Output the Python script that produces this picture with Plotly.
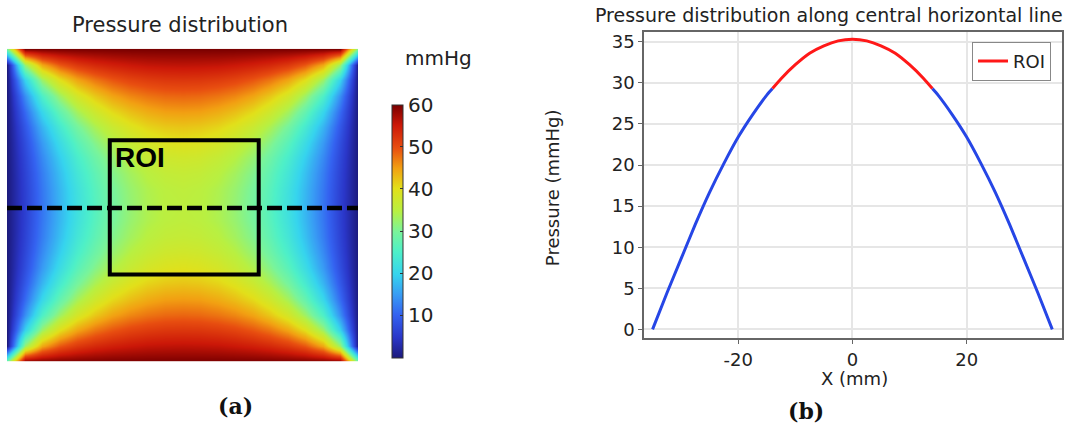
import numpy as np
import plotly.graph_objects as go

# ---------------- Data ----------------
# Heatmap grid: top-left quarter of the pressure field (mmHg).
# rows: from the central horizontal line (y=0) up to the top edge; cols: from left edge to centre (x=0)
grid_x_quarter = [-35.0, -31.5, -28.0, -24.5, -21.0, -17.5, -14.0, -10.5, -7.0, -3.5, 0.0]
grid_y_quarter = [0.0, 3.08, 6.16, 9.24, 12.32, 15.4, 18.48, 21.56, 24.64, 27.72, 30.8]
pressure_quarter = [
    [0.0, 6.0, 11.8, 17.2, 22.0, 26.1, 29.4, 32.0, 33.9, 35.0, 35.3],
    [0.0, 6.1, 12.0, 17.4, 22.2, 26.4, 29.7, 32.3, 34.1, 35.2, 35.6],
    [0.0, 6.4, 12.5, 18.1, 23.1, 27.2, 30.6, 33.2, 35.0, 36.1, 36.4],
    [0.0, 6.9, 13.5, 19.4, 24.5, 28.7, 32.1, 34.7, 36.4, 37.5, 37.8],
    [0.0, 7.7, 14.9, 21.3, 26.6, 30.9, 34.2, 36.7, 38.4, 39.4, 39.8],
    [0.0, 9.0, 17.1, 24.0, 29.5, 33.8, 37.0, 39.4, 41.0, 41.9, 42.2],
    [0.0, 10.9, 20.3, 27.7, 33.3, 37.5, 40.5, 42.6, 44.0, 44.9, 45.1],
    [0.0, 14.0, 25.2, 32.9, 38.3, 42.0, 44.6, 46.4, 47.5, 48.2, 48.4],
    [0.0, 19.9, 32.7, 40.1, 44.5, 47.4, 49.3, 50.7, 51.5, 52.0, 52.1],
    [0.0, 32.5, 44.3, 49.3, 51.9, 53.5, 54.5, 55.2, 55.7, 55.9, 56.0],
    [30.0, 60.0, 60.0, 60.0, 60.0, 60.0, 60.0, 60.0, 60.0, 60.0, 60.0],
]
cbar_ticks = [10, 20, 30, 40, 50, 60]

# Profile along the central horizontal line (X in mm, pressure in mmHg)
line_x = [-35, -32.5, -30, -27.5, -25, -22.5, -20, -17.5, -15, -14, -12.5, -10, -7.5, -5, -2.5, 0,
          2.5, 5, 7.5, 10, 12.5, 14, 15, 17.5, 20, 22.5, 25, 27.5, 30, 32.5, 35]
line_p = [0.0, 4.4, 8.6, 12.8, 16.7, 20.2, 23.4, 26.1, 28.5, 29.3, 30.5, 32.2, 33.6, 34.5, 35.1, 35.3,
          35.1, 34.5, 33.6, 32.2, 30.5, 29.3, 28.5, 26.1, 23.4, 20.2, 16.7, 12.8, 8.6, 4.4, 0.0]
roi_x = [-14, 14]
x_ticks = [-20, 0, 20]
x_ticktext = ['-20', '0', '20']
y_ticks = [0, 5, 10, 15, 20, 25, 30, 35]

# ROI box and dashed line drawn on the map (mm)
roi_box_x = [-14.5, 15.2]
roi_box_y = [-13.7, 12.75]
center_line_y = -0.6

# ---------------- Build full field by symmetry ----------------
Q = np.array(pressure_quarter)
full_cols = np.hstack([Q, Q[:, -2::-1]])
Z = np.vstack([full_cols[:0:-1], full_cols])
gx = np.array(grid_x_quarter)
gy = np.array(grid_y_quarter)
X = np.concatenate([gx, -gx[-2::-1]])
Y = np.concatenate([-gy[:0:-1], gy])

colorscale = [
    [0.00, '#1c1a7c'], [0.08, '#2a36c8'], [0.17, '#3462f0'], [0.25, '#389cf4'],
    [0.33, '#36d4ee'], [0.42, '#4ef0c8'], [0.50, '#7af49a'], [0.58, '#b8f042'],
    [0.67, '#e2e01a'], [0.75, '#f2a012'], [0.83, '#e84e10'], [0.92, '#cc1808'],
    [1.00, '#7a0000'],
]

FONT = 'DejaVu Sans'
fig = go.Figure()

fig.add_trace(go.Heatmap(
    x=X, y=Y, z=Z, zsmooth='best', colorscale=colorscale, zmin=0, zmax=60,
    xaxis='x', yaxis='y', hoverinfo='skip',
    colorbar=dict(
        x=392 / 1069, xanchor='left', xpad=0,
        y=1 - 104 / 430, yanchor='top', ypad=0,
        len=254 / 430, lenmode='fraction',
        thickness=11, thicknessmode='pixels',
        outlinewidth=1, outlinecolor='#333',
        tickvals=cbar_ticks, ticks='inside', ticklen=3, tickcolor='#333',
        tickfont=dict(family=FONT, size=20, color='#222'),
    ),
))

lx = np.array(line_x, dtype=float)
lp = np.array(line_p, dtype=float)
left_m = lx <= roi_x[0]
right_m = lx >= roi_x[1]
roi_m = (lx >= roi_x[0]) & (lx <= roi_x[1])
blue = '#2646e6'
red = '#ff1818'
for m in (left_m, right_m):
    fig.add_trace(go.Scatter(x=lx[m], y=lp[m], mode='lines',
                             line=dict(color=blue, width=3, shape='spline', smoothing=0.6),
                             xaxis='x2', yaxis='y2', showlegend=False))
fig.add_trace(go.Scatter(x=lx[roi_m], y=lp[roi_m], mode='lines',
                         line=dict(color=red, width=3, shape='spline', smoothing=0.6),
                         xaxis='x2', yaxis='y2', name='ROI', showlegend=True))

fig.update_layout(
    width=1069, height=430,
    margin=dict(l=0, r=0, t=0, b=0),
    paper_bgcolor='white', plot_bgcolor='white',
    font=dict(family=FONT, color='#222'),
    xaxis=dict(domain=[7 / 1069, 358 / 1069], range=[-35, 35], visible=False),
    yaxis=dict(domain=[1 - 362 / 430, 1 - 48 / 430], range=[-30.8, 30.8], visible=False),
    xaxis2=dict(domain=[644 / 1069, 1062 / 1069], range=[-36.5, 36.7], anchor='y2',
                tickvals=x_ticks, ticktext=x_ticktext, showgrid=True, gridcolor='#e6e6e6', gridwidth=2,
                zeroline=False, showline=True, linecolor='#666', linewidth=1.5, mirror=True,
                ticks='outside', ticklen=4, tickcolor='#666',
                tickfont=dict(family=FONT, size=18, color='#222')),
    yaxis2=dict(domain=[1 - 339 / 430, 1 - 31 / 430], range=[-1.1, 36.2], anchor='x2',
                tickvals=y_ticks, showgrid=True, gridcolor='#e6e6e6', gridwidth=2,
                zeroline=False, showline=True, linecolor='#666', linewidth=1.5, mirror=True,
                ticks='outside', ticklen=4, tickcolor='#666',
                tickfont=dict(family=FONT, size=18, color='#222')),
    legend=dict(x=1051 / 1069, xanchor='right', y=1 - 41 / 430, yanchor='top',
                bgcolor='white', bordercolor='#888', borderwidth=1,
                font=dict(family=FONT, size=18, color='#222'),
                itemwidth=30, tracegroupgap=0),
    showlegend=True,
)

# shapes on the map
fig.add_shape(type='rect', xref='x', yref='y', x0=roi_box_x[0], x1=roi_box_x[1],
              y0=roi_box_y[0], y1=roi_box_y[1], line=dict(color='black', width=4))
fig.add_shape(type='line', xref='x', yref='y', x0=-35, x1=35, y0=center_line_y, y1=center_line_y,
              line=dict(color='black', width=4.5, dash='15px,5px'))


def ann(text, x, y, size, family=FONT, color='#222', angle=0, xref='paper', yref='paper',
        xanchor='center'):
    return dict(text=text, x=x, y=y, xref=xref, yref=yref, xanchor=xanchor, yanchor='middle',
                textangle=angle, font=dict(family=family, size=size, color=color), showarrow=False)


anns = [
    ann('<b>ROI</b>', -13.8, 9.4, 28, family='Liberation Sans', color='black', xref='x', yref='y',
        xanchor='left'),
    ann('Pressure distribution', 180 / 1069, 1 - 24 / 430, 21),
    ann('mmHg', 438 / 1069, 1 - 57 / 430, 20),
    ann('Pressure distribution along central horizontal line', 829 / 1069, 1 - 14 / 430, 19),
    ann('X (mm)', 854 / 1069, 1 - 379 / 430, 18),
    ann('Pressure (mmHg)', 552 / 1069, 1 - 188 / 430, 18, angle=-90),
    ann('<b>(a)</b>', 235 / 1069, 1 - 407 / 430, 22, family='DejaVu Serif', color='#111'),
    ann('<b>(b)</b>', 806 / 1069, 1 - 412 / 430, 22, family='DejaVu Serif', color='#111'),
]
fig.update_layout(annotations=anns)

fig.write_html('out.html')
